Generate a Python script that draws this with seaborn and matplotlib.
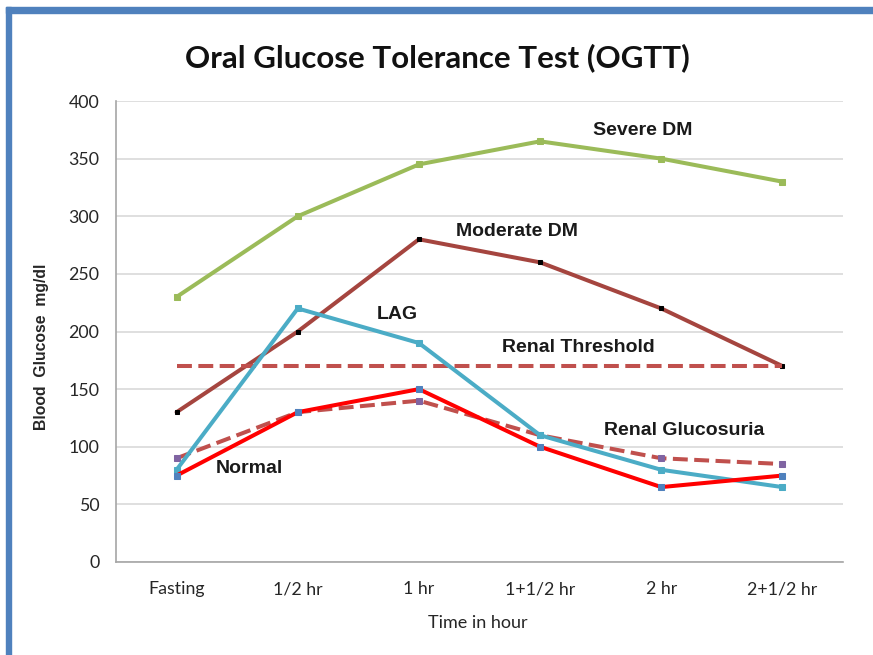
import matplotlib
matplotlib.use("Agg")
import matplotlib.pyplot as plt
import seaborn as sns
import pandas as pd
from matplotlib.patches import Rectangle

# Datos de la curva de tolerancia a la glucosa
time_labels = ["Fasting", "1/2 hr", "1 hr", "1+1/2 hr", "2 hr", "2+1/2 hr"]
severe_dm = [230, 300, 345, 365, 350, 330]
moderate_dm = [130, 200, 280, 260, 220, 170]
lag = [80, 220, 190, 110, 80, 65]
renal_threshold = [170, 170, 170, 170, 170, 170]
normal = [75, 130, 150, 100, 65, 75]
renal_glucosuria = [90, 130, 140, 110, 90, 85]

# (serie, valores, color de línea, color de marcador, estilo, tamaño marcador)
series = [
    ("Severe DM", severe_dm, "#9BBB59", "#9BBB59", "-", 5),
    ("Moderate DM", moderate_dm, "#A5453F", "black", "-", 3.5),
    ("Renal Threshold", renal_threshold, "#C0504D", "#C0504D", "--", 0),
    ("Renal Glucosuria", renal_glucosuria, "#C0504D", "#8064A2", "--", 5),
    ("LAG", lag, "#4BACC6", "#4BACC6", "-", 5),
    ("Normal", normal, "#FF0000", "#4F81BD", "-", 5),
]

# Etiquetas de texto dentro del gráfico
labels = [
    ("Severe DM", 3.85, 374),
    ("Moderate DM", 2.81, 287),
    ("LAG", 1.82, 215),
    ("Renal Threshold", 3.32, 186),
    ("Renal Glucosuria", 4.19, 114),
    ("Normal", 0.6, 81),
]

sns.set_style("white")
plt.rcParams["font.family"] = ["Lato", "DejaVu Sans"]

fig = plt.figure(figsize=(8.73, 6.55), dpi=100)
ax = fig.add_axes([116 / 873, 1 - 562 / 655, (843 - 116) / 873, (562 - 101) / 655])

x = list(range(len(time_labels)))
for name, vals, lc, mc, ls, ms in series:
    df = pd.DataFrame({"x": x, "y": vals})
    sns.lineplot(data=df, x="x", y="y", ax=ax, color=lc, linewidth=2.9,
                 linestyle=ls, marker="s" if ms else None, markersize=ms,
                 markerfacecolor=mc, markeredgecolor=mc)

for text, tx, ty in labels:
    ax.text(tx, ty, text, ha="center", va="center", fontsize=14,
            fontweight="bold", family="Liberation Sans", color="#1a1a1a")

ax.set_xlim(-0.5, 5.5)
ax.set_ylim(0, 400)
ax.set_yticks(range(0, 401, 50))
ax.set_xticks(x)
ax.set_xticklabels(time_labels)
ax.tick_params(axis="both", labelsize=12.8, length=0)
ax.tick_params(axis="x", pad=14)
ax.tick_params(axis="y", pad=12)
ax.yaxis.grid(True, color="#D9D9D9", linewidth=1.2)
ax.set_axisbelow(True)
for side in ["top", "right"]:
    ax.spines[side].set_visible(False)
for side in ["left", "bottom"]:
    ax.spines[side].set_color("#A6A6A6")
    ax.spines[side].set_linewidth(1.2)

ax.set_xlabel("Time in hour", fontsize=13)
ax.xaxis.set_label_coords((478 - 116) / 727, -(615 - 562) / 461)
ax.set_ylabel("Blood  Glucose  mg/dl", fontsize=11.3, fontweight="bold",
              family="Liberation Sans")
ax.yaxis.set_label_coords(-(116 - 49) / 727, (562 - 347) / 461)

fig.text(437 / 873, 1 - 58 / 655, "Oral Glucose Tolerance Test (OGTT)",
         ha="center", va="center", fontsize=22.5, fontweight="bold",
         color="#111111")

# Marco azul de la diapositiva
fig.patches.append(Rectangle((6 / 873, 0), 5 / 873, 1 - 7 / 655,
                             transform=fig.transFigure, color="#4F81BD"))
fig.patches.append(Rectangle((6 / 873, 1 - 13 / 655), 1, 6 / 655,
                             transform=fig.transFigure, color="#4F81BD"))

fig.savefig("out.png", dpi=100)
